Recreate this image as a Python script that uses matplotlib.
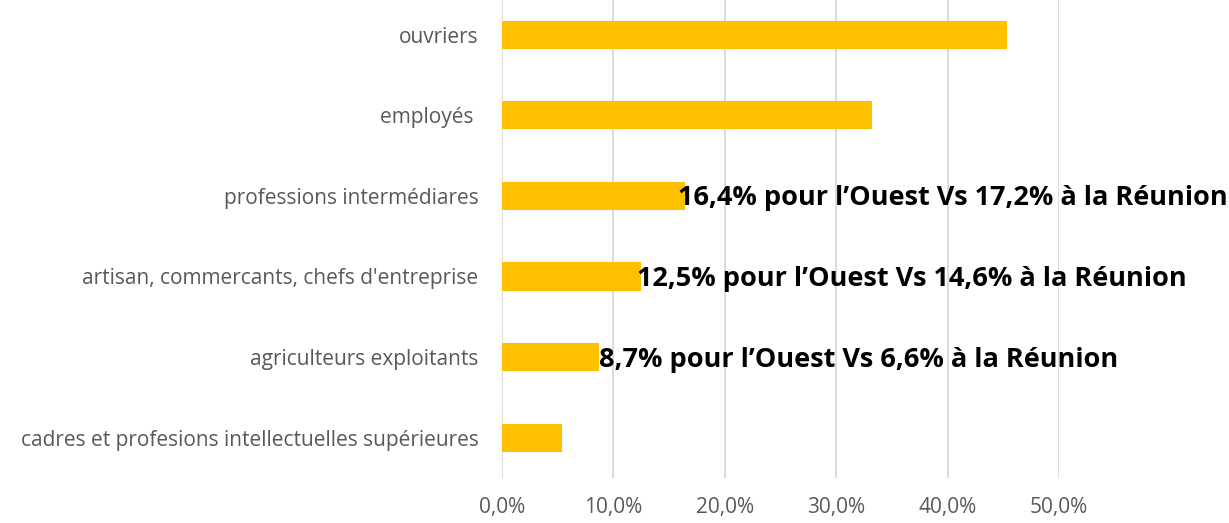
import matplotlib

matplotlib.use("Agg")
import matplotlib.pyplot as plt
from matplotlib.ticker import FuncFormatter

# Donnees, de bas en haut
categories = [
    "cadres et profesions intellectuelles supérieures",
    "agriculteurs exploitants",
    "artisan, commercants, chefs d'entreprise",
    "professions intermédiares",
    "employés ",
    "ouvriers",
]
values = [5.4, 8.7, 12.5, 16.4, 33.2, 45.3]

# Annotations comparatives
note_rows = [1, 2, 3]
note_x = [8.7, 12.1, 15.8]
note_texts = [
    "8,7% pour l\u2019Ouest Vs 6,6% à la Réunion",
    "12,5% pour l\u2019Ouest Vs 14,6% à la Réunion",
    "16,4% pour l\u2019Ouest Vs 17,2% à la Réunion",
]

xticks = [0, 10, 20, 30, 40, 50]

plt.rcParams["font.family"] = ["Open Sans", "DejaVu Sans"]

fig = plt.figure(figsize=(12.29, 5.23), dpi=100)
ax = fig.add_axes([0.4085, 0.086, 0.4532, 0.914])

ax.barh(range(len(categories)), values, height=0.35, color="#FFC000", zorder=3)

ax.set_xlim(0, 50)
ax.set_ylim(-0.5, 5.43)
ax.set_xticks(xticks)
ax.xaxis.set_major_formatter(FuncFormatter(lambda v, _: f"{v:.1f}%".replace(".", ",")))
ax.set_yticks(range(len(categories)))
ax.set_yticklabels(categories)

ax.grid(axis="x", color="#D9D9D9", linewidth=1.3, zorder=0)
ax.set_axisbelow(True)
for s in ax.spines.values():
    s.set_visible(False)
ax.tick_params(length=0, labelsize=15, colors="#595959")
ax.tick_params(axis="y", pad=17)
ax.tick_params(axis="x", pad=14)

for r, x, t in zip(note_rows, note_x, note_texts):
    ax.text(x, r - 0.03, t, ha="left", va="center", fontsize=19.5,
            fontweight="bold", color="black", zorder=4, clip_on=False)

fig.savefig("out.png", dpi=100)
